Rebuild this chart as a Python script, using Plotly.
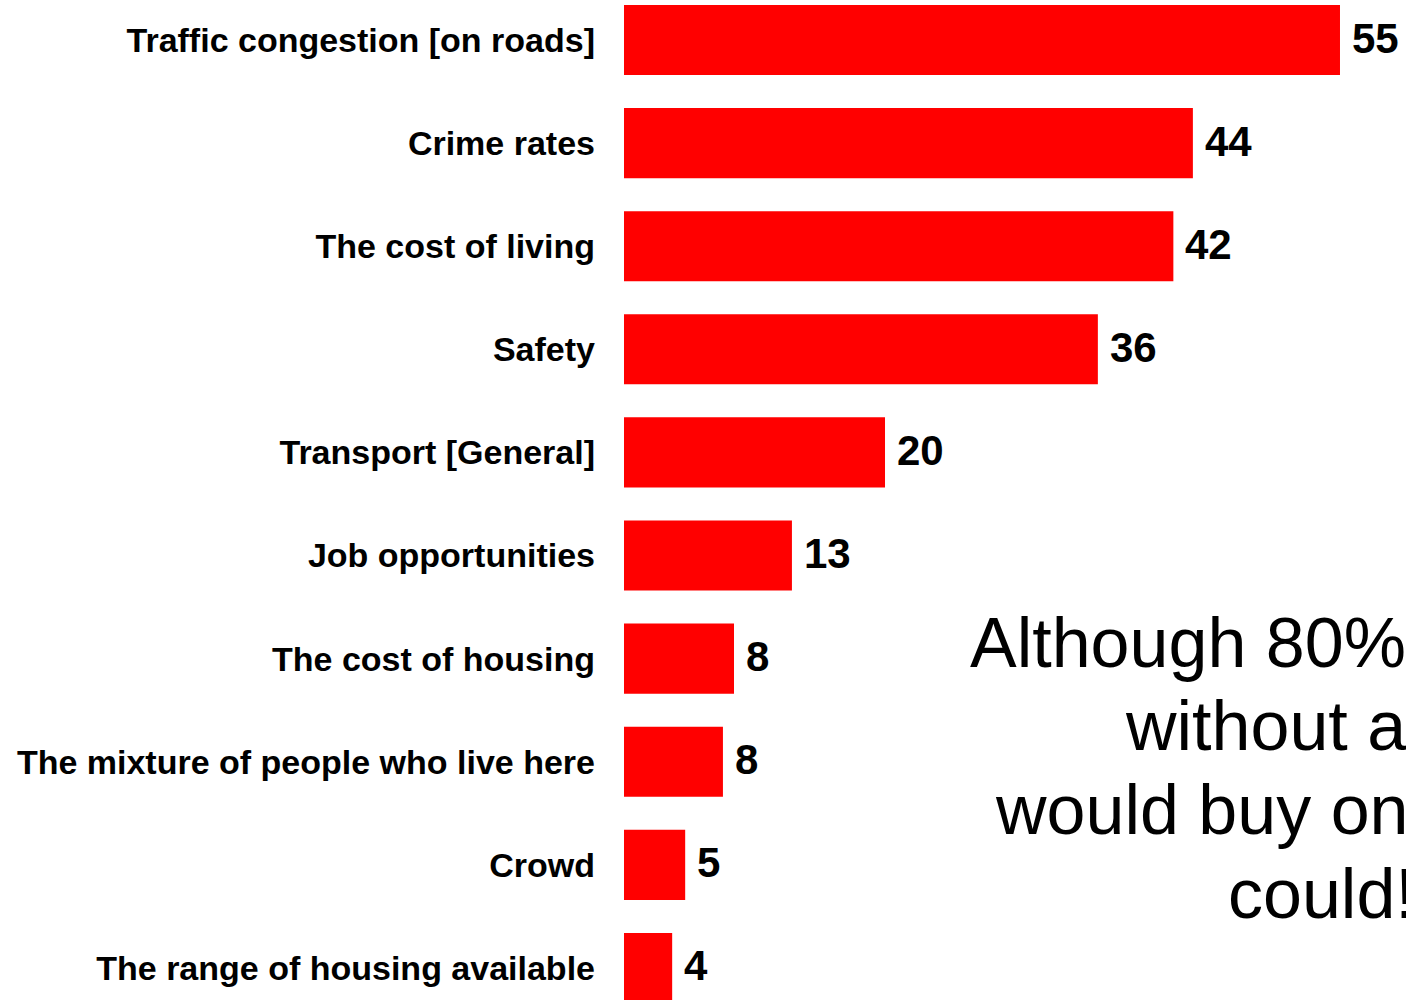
import plotly.graph_objects as go

categories = [
    "Traffic congestion [on roads]",
    "Crime rates",
    "The cost of living",
    "Safety",
    "Transport [General]",
    "Job opportunities",
    "The cost of housing",
    "The mixture of people who live here",
    "Crowd",
    "The range of housing available",
]
values = [55.0, 43.7, 42.2, 36.4, 20.05, 12.9, 8.45, 7.6, 4.7, 3.7]
value_labels = ["55", "44", "42", "36", "20", "13", "8", "8", "5", "4"]

note_lines = ["Although 80%", "without a", "would buy one", "could!"]
note_x = [968, 1123, 993, 1226]          # left edge of each line, px
note_y = [643, 726, 810, 894]            # vertical middle of each line, px

W, H = 1406, 1000
ML = 624
FONT = "Liberation Sans, Arial, sans-serif"

fig = go.Figure(
    go.Bar(
        x=values,
        y=categories,
        orientation="h",
        width=0.68,
        marker=dict(color="#FF0000", line=dict(width=0)),
        hoverinfo="x+y",
    )
)

for v, c, lab in zip(values, categories, value_labels):
    fig.add_annotation(
        x=v, y=c, xref="x", yref="y", text=lab, showarrow=False,
        xanchor="left", yanchor="middle", xshift=10, yshift=2,
        font=dict(family=FONT, size=42, color="black", weight="bold"),
    )

for t, px, py in zip(note_lines, note_x, note_y):
    fig.add_annotation(
        x=(px - ML) / (W - ML), y=1 - py / H, xref="paper", yref="paper", text=t,
        showarrow=False, xanchor="left", yanchor="middle",
        font=dict(family=FONT, size=70, color="black"),
    )

fig.update_layout(
    width=W, height=H,
    margin=dict(l=ML, r=0, t=0, b=0, pad=0),
    paper_bgcolor="white", plot_bgcolor="white",
    showlegend=False,
    xaxis=dict(range=[0, (W - ML) / 13.018], visible=False, fixedrange=True),
    yaxis=dict(
        type="category",
        range=[9.311, -0.388],
        showgrid=False, zeroline=False, showline=False,
        ticks="", ticklabelstandoff=28,
        tickfont=dict(family=FONT, size=34, color="black", weight="bold"),
        fixedrange=True,
    ),
)

fig.write_html(
    "out.html",
    config={"displayModeBar": False},
    post_script="document.body.style.margin='0';",
)
